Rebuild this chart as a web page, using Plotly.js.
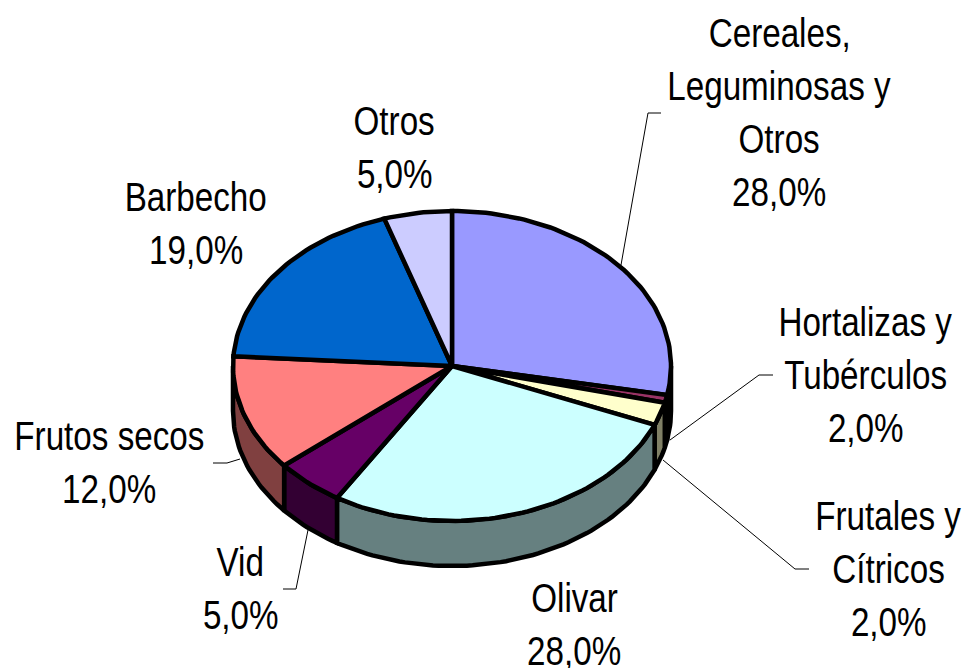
<!DOCTYPE html>
<html>
<head>
<meta charset="utf-8">
<script src="https://cdn.plot.ly/plotly-3.0.1.min.js"></script>
<style>html,body{margin:0;padding:0;background:#fff}</style>
</head>
<body>
<div id="chart" style="width:966px;height:668px"></div>
<script>
// Slice sizes (percent of the full turn)
var categories = ["Cereales", "Hortalizas", "Frutales", "Olivar", "Vid", "Frutos secos", "Barbecho", "Otros"];
var values = [28, 0.8, 2.4, 27.6, 5.1, 12.1, 19, 5];
var topColors = ["#9999FF", "#993366", "#FFFFCC", "#CCFFFF", "#660066", "#FF8080", "#0066CC", "#CCCCFF"];
var sideColors = ["#4D4D80", "#4D1A33", "#808066", "#668080", "#330033", "#804040", "#003366", "#666680"];

// Printed labels
var labelLines = [
  ["Cereales,", "Leguminosas y", "Otros", "28,0%"],
  ["Hortalizas y", "Tubérculos", "2,0%"],
  ["Frutales y", "Cítricos", "2,0%"],
  ["Olivar", "28,0%"],
  ["Vid", "5,0%"],
  ["Frutos secos", "12,0%"],
  ["Barbecho", "19,0%"],
  ["Otros", "5,0%"]
];
var labelX = [779, 865, 888, 574, 240, 109, 196, 394];
var labelY = [33, 322, 516, 598, 562, 436, 197, 121];
var lineStep = 53;
var squeeze = 0.81;

// Leader lines
var leaders = [
  "M621,265 L648,113 L661,113",
  "M670,440 L759,375 L773,375",
  "M663,460 L795,569 L809,569",
  "M240,459 L227,463 L213,463",
  "M308,530 L296,589 L283,589"
];

var cx = 452, cy = 366, rx = 219, ry = 155, depth = 45;

function pt(tDeg, dy) {
  var a = tDeg * Math.PI / 180;
  return [cx + rx * Math.sin(a), cy - ry * Math.cos(a) + dy];
}
function arc(t0, t1, dy) {
  var out = [], n = Math.max(2, Math.ceil(Math.abs(t1 - t0) / 1.5));
  for (var i = 0; i <= n; i++) out.push(pt(t0 + (t1 - t0) * i / n, dy));
  return out;
}
var total = values.reduce(function (a, b) { return a + b; }, 0);
var traces = [], walls = [], tops = [], t = 0;
values.forEach(function (v, i) {
  var t0 = t, t1 = t + v / total * 360;
  t = t1;
  var a = Math.max(t0, 90), b = Math.min(t1, 270);
  if (b > a) {
    var poly = arc(a, b, 0).concat(arc(b, a, depth));
    poly.push(poly[0]);
    walls.push({ poly: poly, color: sideColors[i], name: categories[i] });
  }
  var topPoly = [[cx, cy]].concat(arc(t0, t1, 0));
  topPoly.push([cx, cy]);
  tops.push({ poly: topPoly, color: topColors[i], name: categories[i] });
});
walls.concat(tops).forEach(function (s) {
  traces.push({
    type: "scatter", mode: "lines", fill: "toself", fillcolor: s.color,
    x: s.poly.map(function (p) { return p[0]; }),
    y: s.poly.map(function (p) { return p[1]; }),
    line: { color: "#000", width: 4.5, shape: "linear" },
    name: s.name, showlegend: false, hoverinfo: "name"
  });
});

var annotations = [];
labelLines.forEach(function (lines, i) {
  lines.forEach(function (txt, j) {
    annotations.push({
      text: txt, xref: "x", yref: "y", x: labelX[i], y: labelY[i] + j * lineStep,
      xanchor: "center", yanchor: "middle", showarrow: false,
      font: { family: "'Liberation Sans', Arial, sans-serif", size: 41, color: "#000" }
    });
  });
});

var layout = {
  width: 966, height: 668,
  margin: { l: 0, r: 0, t: 0, b: 0 },
  paper_bgcolor: "#fff", plot_bgcolor: "#fff",
  showlegend: false,
  xaxis: { range: [0, 966], visible: false, fixedrange: true },
  yaxis: { range: [668, 0], visible: false, fixedrange: true },
  annotations: annotations,
  shapes: leaders.map(function (p) {
    return { type: "path", path: p, xref: "x", yref: "y", line: { color: "#000", width: 1 }, layer: "below" };
  })
};
Plotly.newPlot("chart", traces, layout, { displayModeBar: false, staticPlot: true }).then(function (gd) {
  // The reference type is a condensed face: narrow each label about its own centre
  gd.querySelectorAll(".annotation-text").forEach(function (el) {
    var b = el.getBBox(), c = b.x + b.width / 2;
    var prior = el.getAttribute("transform") || "";
    el.setAttribute("transform", "translate(" + c + ",0) scale(" + squeeze + ",1) translate(" + (-c) + ",0) " + prior);
  });
});
</script>
</body>
</html>
